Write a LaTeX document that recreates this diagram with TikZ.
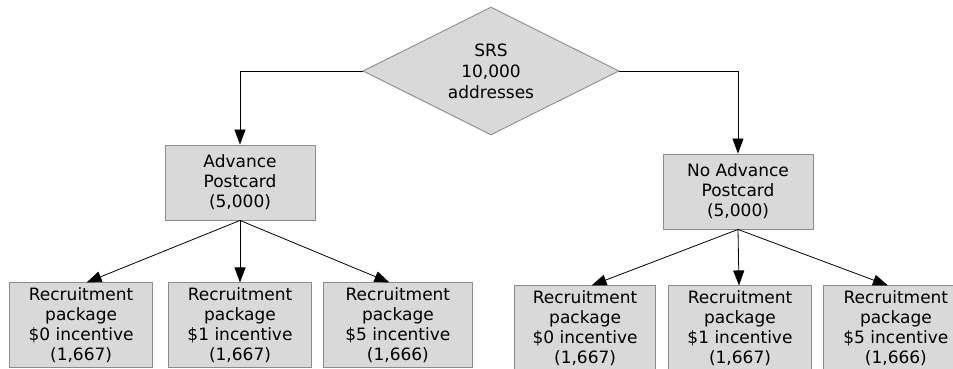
\documentclass[tikz,border=0pt]{standalone}
\usepackage{fontspec}
\setmainfont{DejaVu Sans}
\usetikzlibrary{arrows.meta,positioning,shapes.geometric}
\definecolor{boxfill}{HTML}{D9D9D9}
\definecolor{boxline}{HTML}{8C8C8C}
\tikzstyle{block} = [rectangle, draw=boxline, fill=boxfill, line width=0.9pt, align=center, inner sep=0pt, minimum width=143pt, minimum height=85pt, font=\fontsize{17}{20}\selectfont]
\tikzstyle{arm} = [block, minimum width=150pt, minimum height=75pt]
\tikzstyle{decide} = [diamond, aspect=2, draw=boxline, fill=boxfill, line width=0.9pt, align=center, inner sep=0pt, minimum width=256pt, minimum height=128pt, font=\fontsize{17}{21}\selectfont]
\tikzstyle{link} = [-{Triangle[length=15pt,width=11pt]}, line width=0.8pt, black]

\begin{document}
\begin{tikzpicture}[x=1pt,y=1pt]
      \useasboundingbox (0,0) rectangle (953,-368);
      \clip (0,0) rectangle (953,-368);
      \node[decide] (SRS) at (491,-71) {SRS\\10,000\\addresses};
      \node[arm] (Advance) at (240,-182.5) {Advance\\Postcard\\(5,000)};
      \node[arm] (NoAdvance) at (738,-191.5) {No Advance\\Postcard\\(5,000)};
      %
      \node[block,below=62pt of Advance] (AdvOne) {Recruitment\\package\\\$1 incentive\\(1,667)};
      \node[block,left=15pt of AdvOne] (AdvZero) {Recruitment\\package\\\$0 incentive\\(1,667)};
      \node[block,right=11pt of AdvOne,minimum width=149pt] (AdvFive) {Recruitment\\package\\\$5 incentive\\(1,666)};
      %
      \node[block,below=56pt of NoAdvance,xshift=2pt] (NoOne) {Recruitment\\package\\\$1 incentive\\(1,667)};
      \node[block,left=12pt of NoOne,minimum width=141pt] (NoZero) {Recruitment\\package\\\$0 incentive\\(1,667)};
      \node[block,right=11pt of NoOne,minimum width=145pt] (NoFive) {Recruitment\\package\\\$5 incentive\\(1,666)};
      %
      \draw[link] (SRS.west) -| (Advance.north);
      \draw[link] (SRS.east) -| (NoAdvance.north);
      \draw[link] (Advance.south) -- ([xshift=5.5pt]AdvZero.north);
      \draw[link] (Advance.south) -- (AdvOne.north);
      \draw[link] (Advance.south) -- ([xshift=-8.5pt]AdvFive.north);
      \draw[link] (NoAdvance.south) -- ([xshift=6.5pt]NoZero.north);
      \draw[link] (NoAdvance.south) -- ([xshift=-1pt]NoOne.north);
      \draw[link] (NoAdvance.south) -- ([xshift=-8pt]NoFive.north);
    \end{tikzpicture}
\end{document}
